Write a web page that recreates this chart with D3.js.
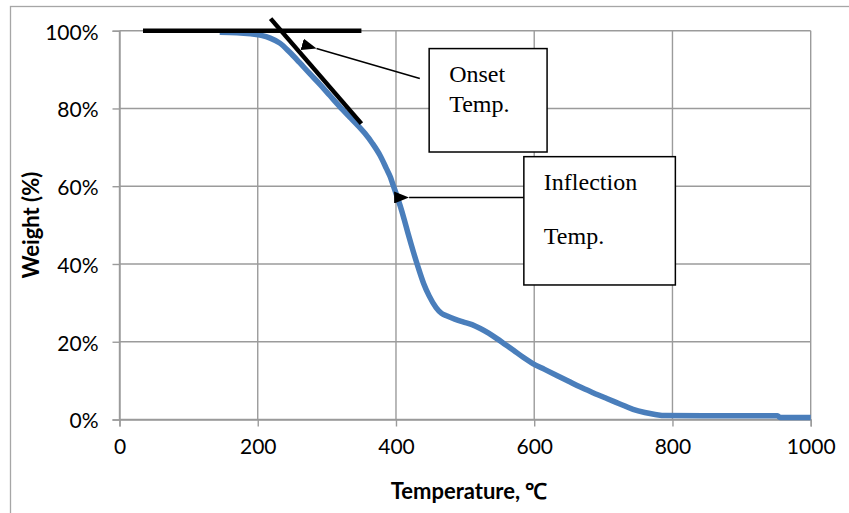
<!DOCTYPE html>
<html>
<head>
<meta charset="utf-8">
<script src="https://cdn.jsdelivr.net/npm/d3@7"></script>
<style>
  html, body { margin: 0; padding: 0; background: #fff; }
  svg { display: block; }
</style>
</head>
<body>
<svg id="chart" width="849" height="513"></svg>
<script>
// TGA curve: temperature (°C) vs remaining weight (%)
const temperature = [145, 170, 190, 205, 218, 232, 246, 260, 275, 290, 304, 318, 333, 345, 355,
  366, 377, 386, 392, 396, 400, 406, 412, 418, 425, 432, 440, 448, 458, 466, 474, 485, 497,
  510, 522, 534, 546, 558, 570, 584, 598, 615, 632, 649, 666, 685, 705, 724, 743, 760, 775,
  790, 850, 900, 952, 956, 1000];
const weight = [99.6, 99.5, 99.2, 98.8, 98.1, 96.8, 94.5, 91.9, 89.0, 86.2, 83.4, 80.6, 77.8, 75.6, 73.6,
  71.0, 67.9, 64.6, 62.3, 60.2, 58.2, 55.0, 51.4, 47.5, 43.2, 39.2, 35.0, 31.8, 28.8, 27.3, 26.6, 25.8, 25.1,
  24.4, 23.4, 22.2, 20.8, 19.3, 17.8, 16.0, 14.4, 12.9, 11.4, 9.9, 8.4, 6.9, 5.4, 4.0, 2.6, 1.8, 1.3,
  1.0, 0.95, 0.95, 0.95, 0.5, 0.5];

const xTicks = [0, 200, 400, 600, 800, 1000];
const yTicks = [0, 20, 40, 60, 80, 100];

// Construction lines for the onset temperature (baseline and steepest tangent)
const baselineLine = [[34, 100], [350, 100]];
const tangentLine = [[218.6, 103.1], [350, 76.1]];

// Callout boxes, in data units: [x0, x1, yTop, yBottom]
const onsetBox = [448, 618.6, 95.4, 68.8];
const inflectionBox = [585, 804.2, 67.6, 34.6];
const onsetText = ["Onset", "Temp."];
const inflectionText = ["Inflection", "Temp."];
// Arrows: [tail, tip]
const onsetArrow = [[434.5, 87.7], [285.1, 95.4]];
const inflectionArrow = [[585, 57.1], [419, 57.1]];

const svg = d3.select("#chart");
const plotLeft = 119.5, plotRight = 810.7, plotTop = 30.7, plotBottom = 419.5;

const x = d3.scaleLinear().domain([0, 1000]).range([plotLeft, plotRight]);
const y = d3.scaleLinear().domain([0, 100]).range([plotBottom, plotTop]);

const gridColor = "#9b9b9b";
const tickFont = "Lato, 'Open Sans', sans-serif";

// Outer chart border
svg.append("rect")
  .attr("x", 10.5).attr("y", 6.5).attr("width", 900).attr("height", 600)
  .attr("fill", "none").attr("stroke", "#a6a6a6").attr("stroke-width", 1.3);

// Gridlines
svg.append("g").selectAll("line").data(yTicks).join("line")
  .attr("x1", plotLeft).attr("x2", plotRight)
  .attr("y1", d => y(d)).attr("y2", d => y(d))
  .attr("stroke", gridColor).attr("stroke-width", 1.4);
svg.append("g").selectAll("line").data(xTicks).join("line")
  .attr("x1", d => x(d)).attr("x2", d => x(d))
  .attr("y1", plotTop).attr("y2", plotBottom)
  .attr("stroke", gridColor).attr("stroke-width", 1.4);

// Axes
const xAxis = svg.append("g")
  .attr("transform", `translate(0,${plotBottom})`)
  .call(d3.axisBottom(x).tickValues(xTicks).tickSize(7).tickPadding(13).tickFormat(d3.format("d")));
const yAxis = svg.append("g")
  .attr("transform", `translate(${plotLeft},0)`)
  .call(d3.axisLeft(y).tickValues(yTicks).tickSize(7).tickPadding(14).tickFormat(d => d + "%"));
[xAxis, yAxis].forEach(g => {
  g.select(".domain").attr("stroke", gridColor).attr("stroke-width", 1.4);
  g.selectAll(".tick line").attr("stroke", gridColor).attr("stroke-width", 1.4);
  g.selectAll(".tick text")
    .attr("fill", "#000")
    .style("font-family", tickFont)
    .style("font-size", "21px");
});
yAxis.selectAll(".tick text").attr("dy", "0.4em");

// Axis titles
svg.append("text")
  .attr("x", (plotLeft + plotRight) / 2 + 4).attr("y", 499)
  .attr("text-anchor", "middle")
  .style("font-family", tickFont).style("font-weight", "bold").style("font-size", "22px")
  .text("Temperature, ℃");
svg.append("text")
  .attr("transform", `translate(39,${(plotTop + plotBottom) / 2}) rotate(-90)`)
  .attr("text-anchor", "middle")
  .style("font-family", tickFont).style("font-weight", "bold").style("font-size", "22px")
  .text("Weight (%)");

// Weight loss curve
const pts = temperature.map((t, i) => [t, weight[i]]);
svg.append("path")
  .datum(pts)
  .attr("fill", "none")
  .attr("stroke", "#4a7ebb")
  .attr("stroke-width", 5.5)
  .attr("stroke-linejoin", "round")
  .attr("d", d3.line().x(d => x(d[0])).y(d => y(d[1])).curve(d3.curveMonotoneX));

// Onset construction lines
const seg = d3.line().x(d => x(d[0])).y(d => y(d[1]));
[baselineLine, tangentLine].forEach(l => {
  svg.append("path").attr("d", seg(l))
    .attr("stroke", "#000").attr("stroke-width", 4.5).attr("fill", "none");
});

// Arrowhead marker
svg.append("defs").append("marker")
  .attr("id", "arrowhead")
  .attr("viewBox", "0 0 10 10")
  .attr("preserveAspectRatio", "none")
  .attr("refX", 0).attr("refY", 5)
  .attr("markerUnits", "userSpaceOnUse")
  .attr("markerWidth", 15).attr("markerHeight", 12)
  .attr("orient", "auto-start-reverse")
  .append("path").attr("d", "M10,0 L0,5 L10,10 Z").attr("fill", "#000");

[onsetArrow, inflectionArrow].forEach(a => {
  const [tail, tip] = a;
  svg.append("line")
    .attr("x1", x(tail[0])).attr("y1", y(tail[1]))
    .attr("x2", x(tip[0])).attr("y2", y(tip[1]))
    .attr("stroke", "#000").attr("stroke-width", 1.5)
    .attr("marker-end", "url(#arrowhead)");
});

// Callout boxes with labels
function callout(box, lines, dyFirst, lineGap) {
  const [x0, x1, yt, yb] = box;
  svg.append("rect")
    .attr("x", x(x0)).attr("y", y(yt))
    .attr("width", x(x1) - x(x0)).attr("height", y(yb) - y(yt))
    .attr("fill", "#fff").attr("stroke", "#000").attr("stroke-width", 1.5);
  lines.forEach((s, i) => {
    svg.append("text")
      .attr("x", x(x0) + 20).attr("y", y(yt) + dyFirst + i * lineGap)
      .style("font-family", "'Liberation Serif', 'Times New Roman', serif")
      .style("font-size", "24px")
      .attr("fill", "#000")
      .text(s);
  });
}
callout(onsetBox, onsetText, 33.5, 30);
callout(inflectionBox, inflectionText, 33.5, 54);
</script>
</body>
</html>
